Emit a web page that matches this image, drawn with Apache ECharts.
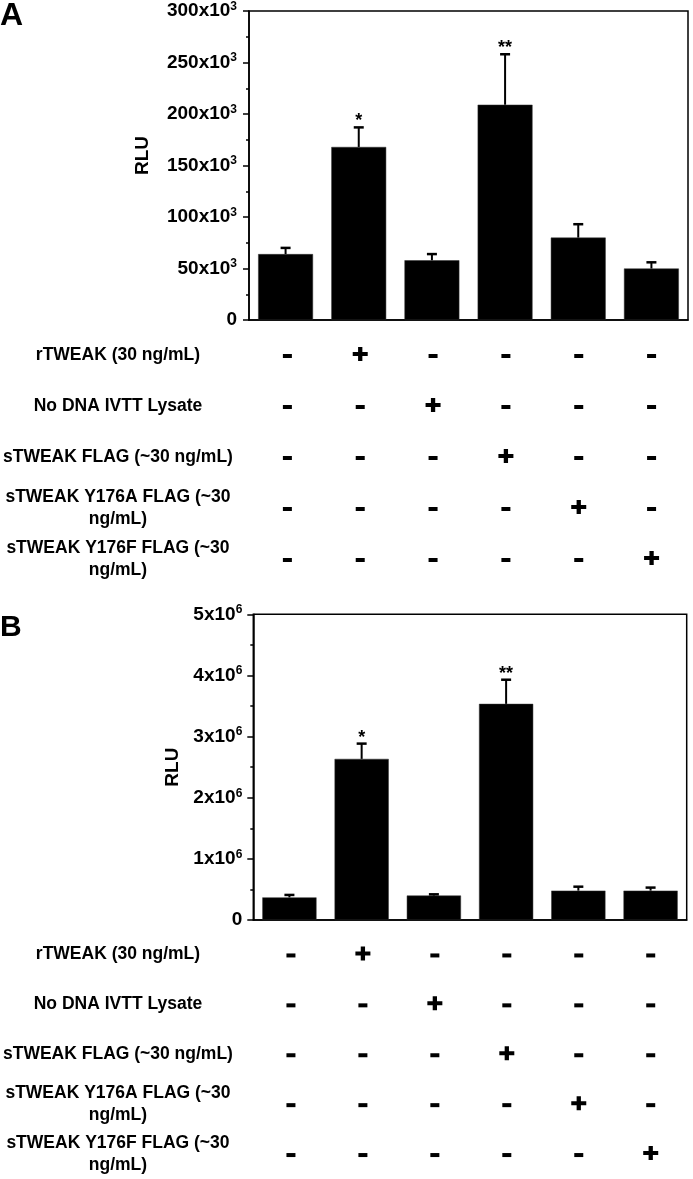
<!DOCTYPE html>
<html>
<head>
<meta charset="utf-8">
<script src="https://cdn.jsdelivr.net/npm/echarts@6/dist/echarts.min.js"></script>
<style>
html,body{margin:0;padding:0;background:#fff;}
#c{width:693px;height:1179px;}
</style>
</head>
<body>
<div id="c"></div>
<script>
// ---- data ----
const conditions = ['Control', 'rTWEAK', 'No DNA IVTT Lysate', 'sTWEAK FLAG', 'sTWEAK Y176A FLAG', 'sTWEAK Y176F FLAG'];
const rowLabels = ['rTWEAK (30 ng/mL)', 'No DNA IVTT Lysate', 'sTWEAK FLAG (~30 ng/mL)', 'sTWEAK Y176A FLAG (~30\nng/mL)', 'sTWEAK Y176F FLAG (~30\nng/mL)'];
const design = [
  ['-', '+', '-', '-', '-', '-'],
  ['-', '-', '+', '-', '-', '-'],
  ['-', '-', '-', '+', '-', '-'],
  ['-', '-', '-', '-', '+', '-'],
  ['-', '-', '-', '-', '-', '+']
];
const meansA = [64000, 168000, 58000, 209000, 80000, 50000];
const errA = [6000, 19000, 6000, 49000, 13000, 6000];
const starsA = ['', '*', '', '**', '', ''];
const meansB = [370000, 2635000, 400000, 3535000, 480000, 480000];
const errB = [40000, 250000, 20000, 395000, 65000, 50000];
const starsB = ['', '*', '', '**', '', ''];
const ticksA = {max: 300000, interval: 50000, exp: 3};
const ticksB = {max: 5000000, interval: 1000000, exp: 6};
const panelLetters = ['A', 'B'];
const yName = 'RLU';

// ---- chart ----
const FONT = '"Liberation Sans", Arial, sans-serif';
const chart = echarts.init(document.getElementById('c'));

const PLUS = 'path://M5,0h4v5h5v4h-5v5h-4v-5h-5v-4h5z';

const layout = [
  {bar: {left: 249, right: 5, top: 11, height: 309}, table: {left: 249, right: 5, top: 329.5, height: 255}, labelMargin: 12, nameGap: 97, namePad: [0, 0, 0, 20], rowMargin: 133},
  {bar: {left: 253.3, right: 6.3, top: 614.3, height: 305.7}, table: {left: 253.3, right: 6.3, top: 929.5, height: 255}, labelMargin: 11, nameGap: 71, namePad: [0, 0, 0, 0], rowMargin: 137}
];

const grids = [], xAxes = [], yAxes = [], series = [];
const panels = [
  {means: meansA, err: errA, stars: starsA, ticks: ticksA},
  {means: meansB, err: errB, stars: starsB, ticks: ticksB}
];

panels.forEach((p, k) => {
  const L = layout[k];
  const gBar = grids.length;
  grids.push(Object.assign({show: true, borderColor: '#000', borderWidth: 1.5, containLabel: false}, L.bar));
  const gTab = grids.length;
  grids.push(Object.assign({show: false, containLabel: false}, L.table));

  const div = Math.pow(10, p.ticks.exp);
  xAxes.push({gridIndex: gBar, type: 'category', data: conditions, boundaryGap: true,
    axisLine: {show: true, lineStyle: {color: '#000', width: 1.5}}, axisTick: {show: false}, axisLabel: {show: false}, splitLine: {show: false}});
  yAxes.push({gridIndex: gBar, type: 'value', min: 0, max: p.ticks.max, interval: p.ticks.interval,
    name: yName, nameLocation: 'middle', nameGap: L.nameGap, nameRotate: 90,
    nameTextStyle: {fontFamily: FONT, fontWeight: 'bold', fontSize: 19, color: '#000', padding: L.namePad},
    axisLine: {show: true, lineStyle: {color: '#000', width: 1.5}},
    axisTick: {show: true, inside: false, length: 6, lineStyle: {color: '#000', width: 1.5}},
    minorTick: {show: true, splitNumber: 2, length: 3, lineStyle: {color: '#000', width: 1.5}},
    splitLine: {show: false},
    axisLabel: {margin: L.labelMargin, color: '#000',
      formatter: v => v === 0 ? '{n|0}' : '{n|' + (v / div) + 'x10}{s|' + p.ticks.exp + '}',
      rich: {
        n: {fontFamily: FONT, fontWeight: 'bold', fontSize: 19, color: '#000', lineHeight: 21},
        s: {fontFamily: FONT, fontWeight: 'bold', fontSize: 12, color: '#000', verticalAlign: 'top', lineHeight: 21, padding: [0, 0, 6, 0]}
      }}
  });
  const xBar = xAxes.length - 1, yBar = yAxes.length - 1;

  xAxes.push({gridIndex: gTab, type: 'category', data: conditions, show: false});
  yAxes.push({gridIndex: gTab, type: 'category', data: rowLabels, inverse: true,
    axisLine: {show: false}, axisTick: {show: false}, splitLine: {show: false},
    axisLabel: {show: true, align: 'center', margin: L.rowMargin, fontFamily: FONT, fontWeight: 'bold', fontSize: 17.5, color: '#000', lineHeight: 22}});
  const xTab = xAxes.length - 1, yTab = yAxes.length - 1;

  series.push({type: 'bar', xAxisIndex: xBar, yAxisIndex: yBar, data: p.means, barWidth: '75%',
    itemStyle: {color: '#000', borderColor: '#333', borderWidth: 0.5}, silent: true, z: 2});

  const errData = p.means.map((m, i) => [i, m, m + p.err[i]]);
  const stars = p.stars;
  series.push({type: 'custom', xAxisIndex: xBar, yAxisIndex: yBar, data: errData, z: 3, silent: true,
    renderItem: (params, api) => {
      const x = api.value(0);
      const p0 = api.coord([x, api.value(1)]);
      const p1 = api.coord([x, api.value(2)]);
      const half = 5;
      const children = [
        {type: 'line', shape: {x1: p0[0], y1: p0[1], x2: p1[0], y2: p1[1]}, style: {stroke: '#000', lineWidth: 2}},
        {type: 'line', shape: {x1: p1[0] - half, y1: p1[1], x2: p1[0] + half, y2: p1[1]}, style: {stroke: '#000', lineWidth: 2.5}}
      ];
      const s = stars[params.dataIndex];
      if (s) children.push({type: 'text', x: p1[0], y: p1[1] + 3,
        style: {text: s, textAlign: 'center', textVerticalAlign: 'bottom', font: 'bold 18px ' + FONT, fill: '#000'}});
      return {type: 'group', children};
    }
  });

  const marks = [];
  design.forEach((row, r) => row.forEach((sgn, c) => marks.push(
    sgn === '+' ? {value: [c, r, sgn], symbol: PLUS, symbolSize: [15, 14], symbolOffset: [0, -1]}
                : {value: [c, r, sgn], symbol: 'rect', symbolSize: [9, 4], symbolOffset: [0, 1]}
  )));
  series.push({type: 'scatter', xAxisIndex: xTab, yAxisIndex: yTab, data: marks,
    itemStyle: {color: '#000', opacity: 1}, silent: true, label: {show: false}});
});

chart.setOption({
  animation: false,
  backgroundColor: '#fff',
  grid: grids,
  xAxis: xAxes,
  yAxis: yAxes,
  series: series,
  graphic: [
    {type: 'text', left: 0, top: 0, style: {text: panelLetters[0], font: 'bold 32px ' + FONT, fill: '#000'}},
    {type: 'text', left: 0, top: 613, style: {text: panelLetters[1], font: 'bold 30px ' + FONT, fill: '#000'}}
  ]
});
</script>
</body>
</html>
